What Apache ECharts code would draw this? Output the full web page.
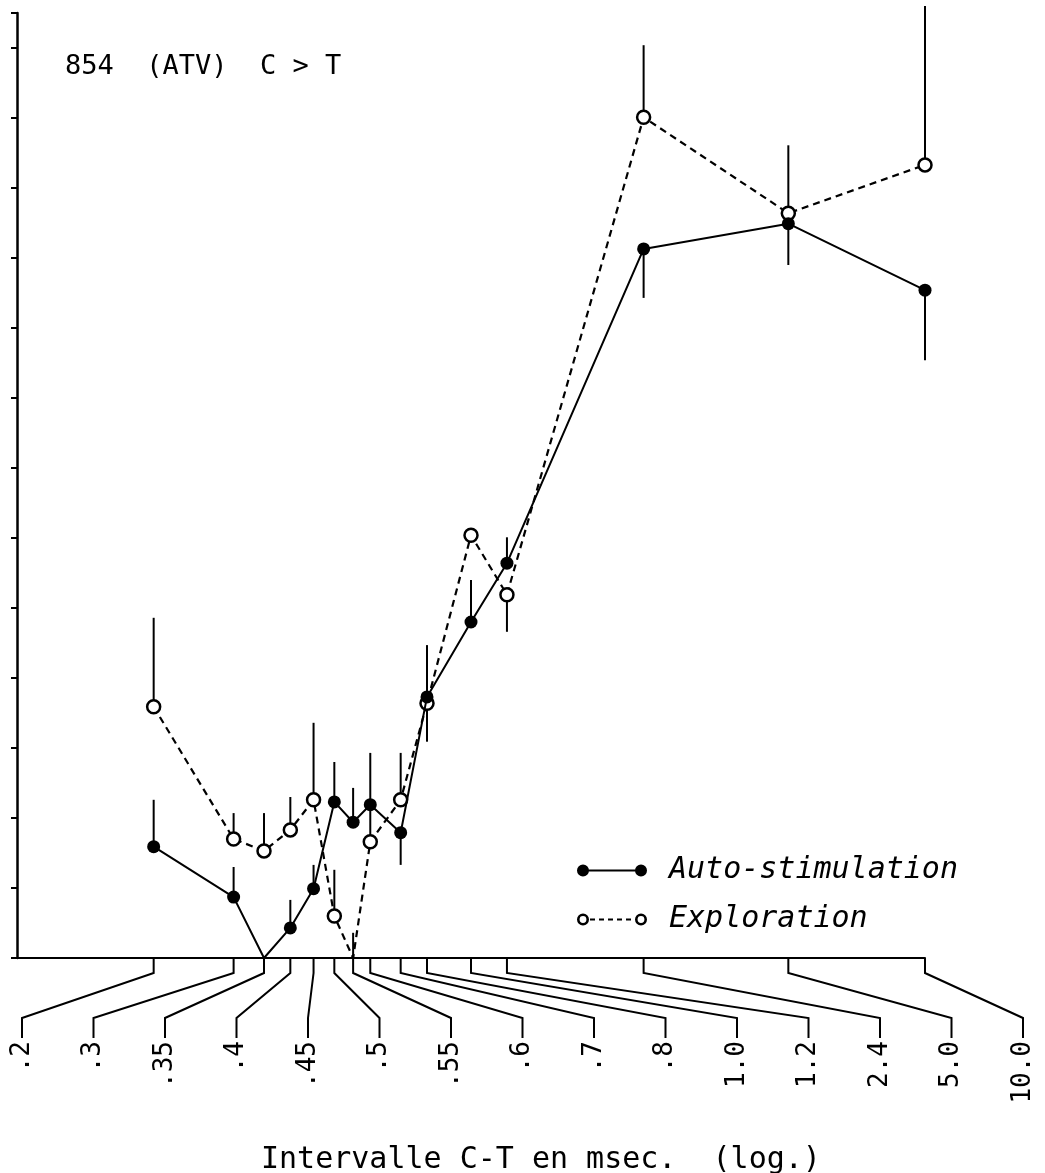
<!DOCTYPE html>
<html>
<head>
<meta charset="utf-8">
<script src="https://cdn.jsdelivr.net/npm/echarts@6/dist/echarts.min.js"></script>
<style>
html,body{margin:0;padding:0;background:#fff;}
#chart{width:1045px;height:1173px;}
</style>
</head>
<body>
<div id="chart"></div>
<script>
// ---- data ----
const xTicks = [0.2, 0.3, 0.35, 0.4, 0.45, 0.5, 0.55, 0.6, 0.7, 0.8, 1.0, 1.2, 2.4, 5.0, 10.0];
const xTickLabels = ['.2', '.3', '.35', '.4', '.45', '.5', '.55', '.6', '.7', '.8', '1.0', '1.2', '2.4', '5.0', '10.0'];
const autoValues = [1.59, 0.87, 0, 0.43, 0.99, 2.23, 1.94, 2.19, 1.79, 3.73, 4.80, 5.64, 10.13, 10.49, 9.54];
const autoErrEnd = [2.26, 1.30, null, 0.83, 1.33, 2.80, 2.43, 2.93, 1.33, 4.47, 5.40, 6.01, 9.43, 9.90, 8.54];
const explValues = [3.59, 1.70, 1.53, 1.83, 2.26, 0.60, 0, 1.66, 2.26, 3.64, 6.04, 5.19, 12.01, 10.64, 11.33];
const explErrEnd = [4.86, 2.07, 2.07, 2.30, 3.36, 1.26, 0.36, 2.11, 2.93, 3.09, null, 4.66, 13.04, 11.61, 13.60];
const titleText = '854  (ATV)  C > T';
const axisTitle = 'Intervalle C-T en msec.  (log.)';
const seriesNames = ['Auto-stimulation', 'Exploration'];

// ---- build ----
const MONO = '"DejaVu Sans Mono", "Liberation Mono", monospace';
const pairs = (vals) => xTicks.map((x, i) => [x, vals[i]]);
const errData = (vals, ends) => xTicks.map((x, i) => [x, vals[i], ends[i]]).filter(d => d[2] !== null);

function errRender(params, api) {
  const p1 = api.coord([api.value(0), api.value(1)]);
  const p2 = api.coord([api.value(0), api.value(2)]);
  return { type: 'line', shape: { x1: p1[0], y1: p1[1], x2: p2[0], y2: p2[1] },
           style: { stroke: '#000', lineWidth: 2 } };
}

const ringIcon = 'path://M0,6A6,6 0 1,1 12,6A6,6 0 1,1 0,6Z M2.6,6A3.4,3.4 0 1,0 9.4,6A3.4,3.4 0 1,0 2.6,6Z' +
  'M58,6A6,6 0 1,1 70,6A6,6 0 1,1 58,6Z M60.6,6A3.4,3.4 0 1,0 67.4,6A3.4,3.4 0 1,0 60.6,6Z' +
  'M13,5h5v2h-5Z M22,5h5v2h-5Z M31,5h5v2h-5Z M40,5h5v2h-5Z M49,5h5v2h-5Z';
const dotIcon = 'path://M0,6A6,6 0 1,1 12,6A6,6 0 1,1 0,6Z M58,6A6,6 0 1,1 70,6A6,6 0 1,1 58,6Z M6,5H64V7H6Z';

const chart = echarts.init(document.getElementById('chart'), null, { renderer: 'canvas' });
chart.setOption({
  backgroundColor: '#fff',
  animation: false,
  title: [
    { text: titleText, left: 60, top: 48,
      textStyle: { fontFamily: MONO, fontSize: 27, fontWeight: 'normal', color: '#000' } },
    { text: axisTitle, left: 256, top: 1140,
      textStyle: { fontFamily: MONO, fontSize: 30, fontWeight: 'normal', color: '#000' } }
  ],
  grid: { left: 17, right: 120, top: 13, bottom: 215 },
  xAxis: {
    type: 'log', logBase: 10, min: 0.1, max: 10,
    axisLine: { show: true, lineStyle: { color: '#000', width: 2 } },
    axisTick: { show: false }, axisLabel: { show: false }, splitLine: { show: false }
  },
  yAxis: {
    type: 'value', min: 0, max: 13.5, interval: 1,
    axisLine: { show: true, lineStyle: { color: '#000', width: 2.5 } },
    axisTick: { show: true, length: 6, lineStyle: { color: '#000', width: 2 } },
    axisLabel: { show: false }, splitLine: { show: false }
  },
  legend: {
    orient: 'vertical', left: 572, top: 848, itemWidth: 72, itemHeight: 12, itemGap: 14,
    data: [
      { name: seriesNames[0], icon: dotIcon },
      { name: seriesNames[1], icon: ringIcon }
    ],
    itemStyle: { color: '#000', borderWidth: 0 },
    lineStyle: { width: 0 },
    textStyle: { fontFamily: MONO, fontStyle: 'italic', fontSize: 30, color: '#000',
                 lineHeight: 35, padding: [0, 0, 0, 16] },
    selectedMode: false
  },
  series: [
    { type: 'custom', name: 'autoErr', data: errData(autoValues, autoErrEnd), renderItem: errRender,
      clip: false, z: 1, silent: true },
    { type: 'custom', name: 'explErr', data: errData(explValues, explErrEnd), renderItem: errRender,
      clip: false, z: 1, silent: true },
    {
      type: 'line', name: seriesNames[1], data: pairs(explValues), z: 3,
      symbol: 'circle', symbolSize: (v) => (v[1] === 0 ? 0 : 13),
      lineStyle: { color: '#000', width: 2.2, type: [7, 5] },
      itemStyle: { color: '#fff', borderColor: '#000', borderWidth: 2.5 }
    },
    {
      type: 'line', name: seriesNames[0], data: pairs(autoValues), z: 4,
      symbol: 'circle', symbolSize: (v) => (v[1] === 0 ? 0 : 13),
      lineStyle: { color: '#000', width: 2 },
      itemStyle: { color: '#000', borderWidth: 0 }
    },
    {
      // axis ticks, leader lines and rotated labels
      type: 'custom', name: 'xticks', clip: false, silent: true, z: 2,
      data: xTicks.map((v, i) => [v, i]),
      renderItem: function (params, api) {
        const v = api.value(0), i = api.value(1);
        const p = api.coord([v, 0]);
        const n = xTicks.length;
        const lx = 22 + i * (api.getWidth() - 44) / (n - 1);
        const yTickEnd = p[1] + 15, yBend = p[1] + 60, yLabel = p[1] + 80;
        return {
          type: 'group',
          children: [
            { type: 'polyline',
              shape: { points: [[p[0], p[1]], [p[0], yTickEnd], [lx, yBend], [lx, yLabel]] },
              style: { stroke: '#000', lineWidth: 2, fill: null } },
            { type: 'text', x: lx, y: yLabel + 3, rotation: Math.PI / 2,
              style: { text: xTickLabels[i], align: 'right', verticalAlign: 'middle',
                       font: '26px ' + MONO, fill: '#000' } }
          ]
        };
      }
    }
  ]
});
</script>
</body>
</html>
